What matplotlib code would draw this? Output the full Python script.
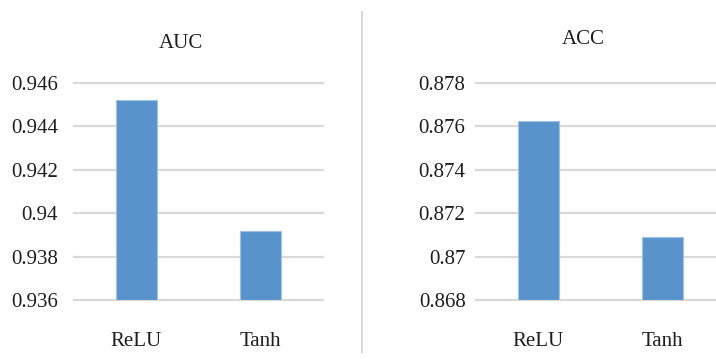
import matplotlib
matplotlib.use("Agg")
import matplotlib.pyplot as plt
from matplotlib.lines import Line2D

plt.rcParams['font.family'] = ['Liberation Serif', 'DejaVu Serif']

categories = ["ReLU", "Tanh"]
auc_values = [0.9452, 0.9392]
acc_values = [0.87626, 0.87089]
auc_ticks = [0.936, 0.938, 0.94, 0.942, 0.944, 0.946]
acc_ticks = [0.868, 0.87, 0.872, 0.874, 0.876, 0.878]
auc_tick_labels = ["0.936", "0.938", "0.94", "0.942", "0.944", "0.946"]
acc_tick_labels = ["0.868", "0.87", "0.872", "0.874", "0.876", "0.878"]

W, H = 716, 359
fig = plt.figure(figsize=(W / 100, H / 100), dpi=100)

bar_color = "#5894CB"
edge_color = "#9FC3E6"
grid_color = "#D9D9D9"
text_color = "#1E1E1E"


def panel(left_px, ypad, title, title_x, title_base, values, ticks, labels):
    # axes spans 249 px across, grid from y=83 to y=300 (pixels from top)
    ax = fig.add_axes([left_px / W, (H - 300) / H, 249 / W, 217 / H])
    x = list(range(len(categories)))
    ax.bar(x, [v - ticks[0] for v in values], bottom=ticks[0], width=0.33,
           color=bar_color, edgecolor=edge_color, linewidth=0.8, zorder=3)
    ax.set_xlim(-0.5, len(categories) - 0.5)
    ax.set_ylim(ticks[0], ticks[-1])
    ax.set_yticks(ticks)
    ax.set_yticklabels(labels, fontsize=15, color=text_color)
    ax.set_xticks(x)
    ax.set_xticklabels(categories, fontsize=15, color=text_color)
    ax.tick_params(axis="both", length=0)
    ax.tick_params(axis="y", pad=ypad)
    ax.tick_params(axis="x", pad=23)
    for s in ax.spines.values():
        s.set_visible(False)
    for t in ticks:
        ax.axhline(t, color=grid_color, linewidth=1.6, zorder=1, clip_on=False)
    ax.set_facecolor("none")
    fig.text(title_x / W, 1 - title_base / H, title, fontsize=15,
             ha="center", va="baseline", color=text_color)
    return ax


panel(74, 11.5, "AUC", 180.5, 48, auc_values, auc_ticks, auc_tick_labels)
panel(476, 7.5, "ACC", 583, 44, acc_values, acc_ticks, acc_tick_labels)

# divider between the two charts
fig.add_artist(Line2D([362 / W, 362 / W], [1 - 12 / H, 1 - 352 / H],
                      transform=fig.transFigure, color="#D9D9D9", linewidth=1.5))

fig.savefig("out.png", dpi=100)
